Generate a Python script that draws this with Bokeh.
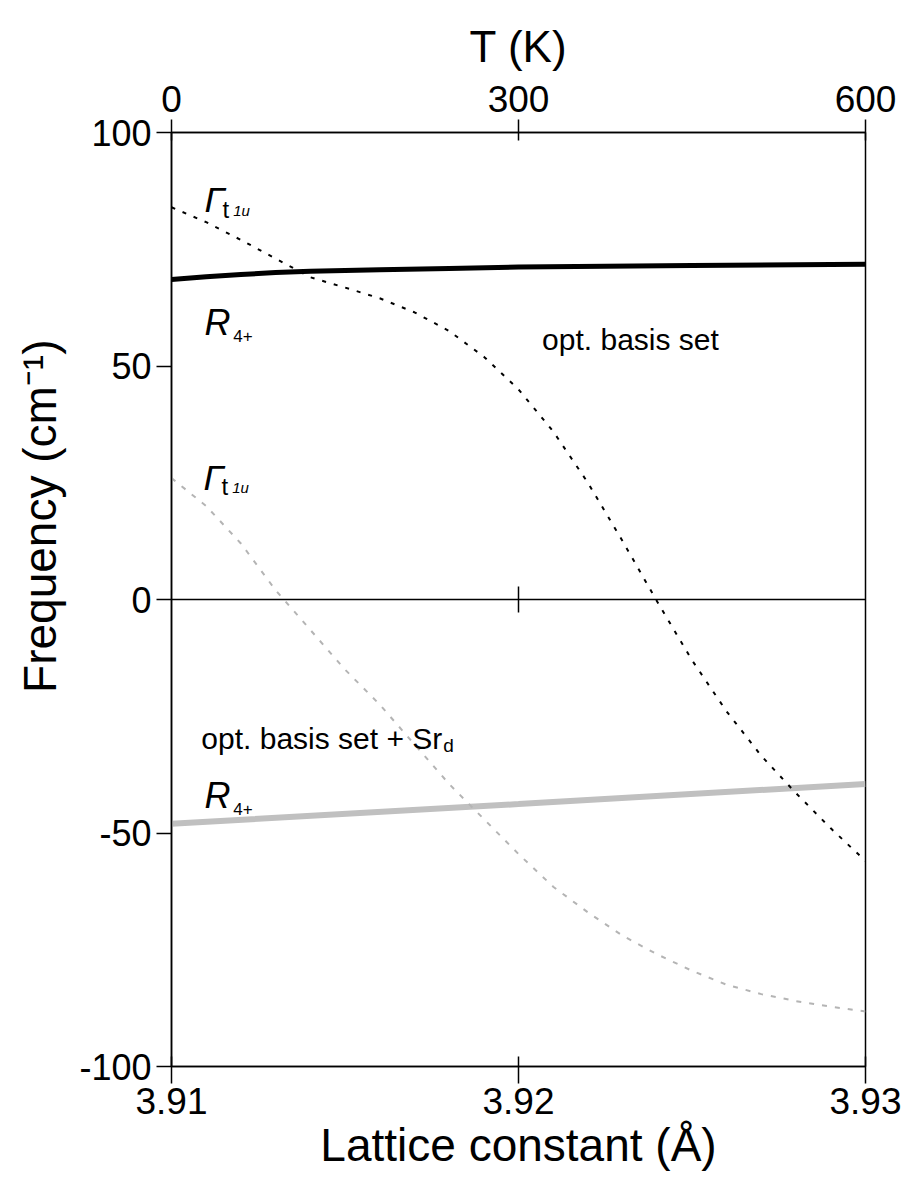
import numpy as np
from bokeh.plotting import figure
from bokeh.models import Range1d, LinearAxis, FixedTicker, Span, Label, Title, PrintfTickFormatter
from bokeh.embed import file_html
from bokeh.resources import INLINE

# Lattice constant grid (Å)
lattice = [3.910, 3.911, 3.912, 3.913, 3.914, 3.915, 3.916, 3.917, 3.918, 3.919, 3.920,
           3.921, 3.922, 3.923, 3.924, 3.925, 3.926, 3.927, 3.928, 3.929, 3.930]

# Gamma t1u mode, optimised basis set (cm^-1)
gamma_opt = [84.0, 80.8, 77.0, 73.0, 69.0, 66.8, 64.5, 61.5, 57.5, 52.0, 45.0,
             36.0, 25.0, 12.5, -0.5, -13.0, -24.0, -33.5, -41.5, -49.0, -56.0]

# Gamma t1u mode, optimised basis set + Sr_d (cm^-1)
gamma_srd = [26.0, 20.0, 12.0, 2.0, -6.5, -15.0, -22.5, -31.0, -39.5, -47.0, -54.5,
             -61.5, -67.0, -72.0, -76.0, -79.5, -82.5, -84.5, -86.0, -87.2, -88.2]

# R4+ mode, optimised basis set
r_opt_x = [3.910, 3.911, 3.912, 3.913, 3.914, 3.916, 3.918, 3.920, 3.925, 3.930]
r_opt = [68.5, 69.1, 69.6, 70.0, 70.3, 70.6, 70.9, 71.2, 71.5, 71.8]

# R4+ mode, optimised basis set + Sr_d
r_srd_x = [3.910, 3.920, 3.930]
r_srd = [-48.0, -43.8, -39.5]

x_ticks = [3.91, 3.92, 3.93]
y_ticks = [-100, -50, 0, 50, 100]
t_ticks = [0, 300, 600]

SANS = "Liberation Sans"

p = figure(width=902, height=1184,
           x_range=Range1d(3.91, 3.93), y_range=Range1d(-100, 100),
           x_axis_type=None, y_axis_type=None,
           output_backend="svg", toolbar_location=None,
           min_border_left=170, min_border_right=37,
           min_border_top=132, min_border_bottom=118,
           background_fill_color="white", border_fill_color="white")
p.outline_line_color = "black"
p.outline_line_width = 1.5
p.extra_x_ranges = {"T": Range1d(0, 600)}

# bottom axis: lattice constant
xb = LinearAxis(ticker=FixedTicker(ticks=x_ticks, minor_ticks=[]),
                formatter=PrintfTickFormatter(format="%.2f"),
                axis_label="Lattice constant (Å)")
xb.major_tick_out = 17
xb.major_tick_in = 10
xb.major_label_standoff = 4
xb.axis_label_standoff = 2
xb.major_label_text_font_size = "37px"
xb.axis_label_text_font_size = "46px"
p.add_layout(xb, "below")

# top axis: temperature
xt = LinearAxis(x_range_name="T", ticker=FixedTicker(ticks=t_ticks, minor_ticks=[]),
                axis_label="T (K)")
xt.major_tick_out = 13
xt.major_tick_in = 8
xt.major_label_standoff = 8
xt.axis_label_standoff = 12
xt.major_label_text_font_size = "37px"
xt.axis_label_text_font_size = "44px"
p.add_layout(xt, "above")

# left axis: frequency
yl = LinearAxis(ticker=FixedTicker(ticks=y_ticks, minor_ticks=[]),
                major_label_overrides={t: str(t) for t in y_ticks})
yl.major_tick_out = 15
yl.major_tick_in = 0
yl.major_label_standoff = 5
yl.major_label_text_font_size = "36px"
p.add_layout(yl, "left")

for ax in (xb, xt, yl):
    ax.axis_line_color = "black"
    ax.axis_line_width = 1.5
    ax.major_tick_line_color = "black"
    ax.major_tick_line_width = 1.5
    ax.major_label_text_color = "black"
    ax.major_label_text_font = SANS
    ax.axis_label_text_color = "black"
    ax.axis_label_text_font = SANS
    ax.axis_label_text_font_style = "normal"

# y-axis title, its end placed some way below the top of the frame
p.add_layout(Title(text="Frequency (cm⁻¹)", text_font=SANS, text_font_size="46px",
                   text_font_style="normal", text_color="black",
                   align="right", offset=207, standoff=22), "left")

# zero line with its centre tick
p.add_layout(Span(location=0, dimension="width", line_color="black", line_width=1.5))
p.scatter(x=[x_ticks[1]], y=[0], marker="dash", angle=np.pi / 2, size=26,
          line_color="black", line_width=1.5)

# curves
p.line(r_srd_x, r_srd, line_color="#c0c0c0", line_width=6)
p.line(lattice, gamma_srd, line_color="#b4b4b4", line_width=2, line_dash="5 8")
p.line(r_opt_x, r_opt, line_color="black", line_width=5)
p.line(lattice, gamma_opt, line_color="black", line_width=2, line_dash="4 8")


def lab(x, y, text, size, style="normal"):
    p.add_layout(Label(x=x, y=y, text=text, text_font=SANS, text_font_size=size,
                       text_font_style=style, text_color="black",
                       text_baseline="alphabetic", text_align="left"))


# mode labels
lab(3.91095, 85.6, "Γ", "36px", "italic")
lab(3.91147, 83.5, "t", "24px")
lab(3.91178, 83.3, "1u", "15px", "italic")
lab(3.91095, 59.4, "R", "36px", "italic")
lab(3.91178, 56.4, "4+", "17px")

lab(3.91092, 26.2, "Γ", "36px", "italic")
lab(3.91144, 24.2, "t", "24px")
lab(3.91175, 24.0, "1u", "15px", "italic")
lab(3.91095, -42.0, "R", "36px", "italic")
lab(3.91178, -44.8, "4+", "17px")

lab(3.92068, 55.6, "opt. basis set", "30px")
lab(3.91086, -29.8, "opt. basis set + Sr", "30px")
lab(3.91783, -31.2, "d", "19px")

open("out.html", "w").write(file_html(p, INLINE))
